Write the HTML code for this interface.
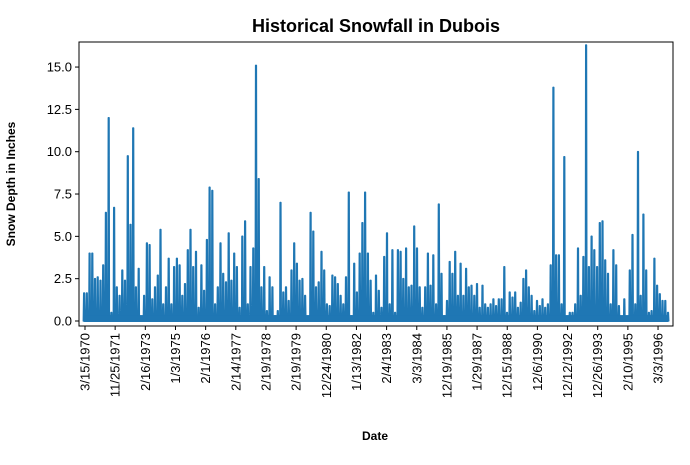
<!DOCTYPE html>
<html><head><meta charset="utf-8"><style>
body{margin:0;background:#fff;font-family:"Liberation Sans",sans-serif}
</style></head><body>
<svg id="chart" width="690" height="460" viewBox="0 0 690 460" xmlns="http://www.w3.org/2000/svg" font-family="Liberation Sans, sans-serif">
<rect width="690" height="460" fill="#fff"/>
<text x="376" y="32" text-anchor="middle" font-size="18" font-weight="bold">Historical Snowfall in Dubois</text>
<text transform="translate(15,184) rotate(-90)" text-anchor="middle" font-size="12" font-weight="bold">Snow Depth in Inches</text>
<text x="375" y="440" text-anchor="middle" font-size="12" font-weight="bold">Date</text>
<g id="plot"></g>
</svg>
<script>
const tickLabels=["3/15/1970","11/25/1971","2/16/1973","1/3/1975","2/1/1976","2/14/1977","2/19/1978","2/19/1979","12/24/1980","1/13/1982","2/4/1983","3/3/1984","12/19/1985","1/29/1987","12/15/1988","12/6/1990","12/12/1992","12/26/1993","2/10/1995","3/3/1996"];
const yTicks=[0,2.5,5,7.5,10,12.5,15];
const snowDepth=[1.65,1.65,4.0,4.0,2.5,2.6,2.4,3.3,6.4,12.0,0.5,6.7,2.0,1.5,3.0,2.4,9.75,5.7,11.4,2.0,3.1,0.2,1.5,4.6,4.5,1.3,2.0,2.7,5.4,1.0,2.0,3.7,1.0,3.2,3.7,3.3,1.5,2.2,4.2,5.4,3.2,4.1,0.8,3.3,1.8,4.8,7.9,7.7,1.0,2.0,4.6,2.8,2.3,5.2,2.4,4.0,3.2,0.8,5.0,5.9,1.0,3.2,4.3,15.1,8.4,2.0,3.2,0.6,2.6,2.0,0.3,0.6,7.0,1.7,2.0,1.2,3.0,4.6,3.4,2.4,2.5,1.5,0.2,6.4,5.3,2.0,2.3,4.1,3.0,1.0,0.9,2.7,2.6,2.2,1.5,1.0,2.6,7.6,0.3,3.4,1.7,4.0,5.8,7.6,4.0,2.4,0.5,2.7,1.8,0.8,3.8,5.2,1.0,4.2,0.5,4.2,4.1,2.5,4.3,2.0,2.1,5.6,4.3,2.0,0.8,2.0,4.0,2.1,3.9,1.0,6.9,2.8,0.3,1.2,3.5,2.8,4.1,1.5,3.4,1.5,3.1,2.0,2.1,1.5,2.2,0.8,2.1,1.0,0.8,1.0,1.3,0.9,1.3,1.3,3.2,0.5,1.7,1.4,1.7,0.8,1.1,2.5,3.0,2.0,1.5,0.6,1.2,0.9,1.3,0.8,1.0,3.3,13.8,3.9,3.9,1.0,9.7,0.1,0.5,0.5,1.0,4.3,1.5,3.8,16.3,3.2,5.0,4.2,3.2,5.8,5.9,3.6,2.8,1.0,4.2,3.3,0.9,0.2,1.3,0.2,3.0,5.1,1.0,10.0,1.5,6.3,3.0,0.5,0.6,3.7,2.1,1.6,1.2,1.2,0.5];
const L=79,R=673,T=42,B=326;
const y=v=>321-v*16.93;
const xTick=i=>85+i*30.16;
const tStart=-0.03,tEnd=19.33;
const xData=k=>xTick(tStart+k*(tEnd-tStart)/(snowDepth.length-1));
const NS="http://www.w3.org/2000/svg";
const g=document.getElementById('plot');
function mk(tag,attrs){const e=document.createElementNS(NS,tag);for(const k in attrs)e.setAttribute(k,attrs[k]);g.appendChild(e);return e;}
const half=(xData(1)-xData(0))/2;
let d="";
snowDepth.forEach((v,k)=>{const x=xData(k);
 d+=(k?"L":"M")+(x-half*0.5).toFixed(1)+","+y(0).toFixed(1)+"L"+(x-0.3).toFixed(1)+","+y(v).toFixed(1)+"L"+(x+0.3).toFixed(1)+","+y(v).toFixed(1)+"L"+(x+half*0.5).toFixed(1)+","+y(0).toFixed(1);});
d+="Z";
const line=mk('path',{d:d,fill:'#1f77b4',stroke:'#1f77b4','stroke-width':1.6,'stroke-linejoin':'round'});


const base=mk('rect',{x:xData(0),y:y(0.35),width:xData(snowDepth.length-1)-xData(0),height:y(0)-y(0.35)+1,fill:'#1f77b4'});


const fr=mk('rect',{x:L,y:T,width:R-L,height:B-T,fill:'none',stroke:'#000','stroke-width':1});


yTicks.forEach(v=>{
 const tl=mk('line',{x1:L-4,x2:L,y1:y(v),y2:y(v),stroke:'#000'});
 
 
 const tx=mk('text',{x:L-7,y:y(v)+4.5,'text-anchor':'end','font-size':13});
 tx.textContent=v.toFixed(1);
 
 
});
tickLabels.forEach((lab,i)=>{
 const x=xTick(i);
 const tl=mk('line',{x1:x,x2:x,y1:B,y2:B+4,stroke:'#000'});
 
 
 const tx=mk('text',{transform:`translate(${x+4.5},${B+7}) rotate(-90)`,'text-anchor':'end','font-size':13});
 tx.textContent=lab;
 
 
});
</script>
</body></html>
